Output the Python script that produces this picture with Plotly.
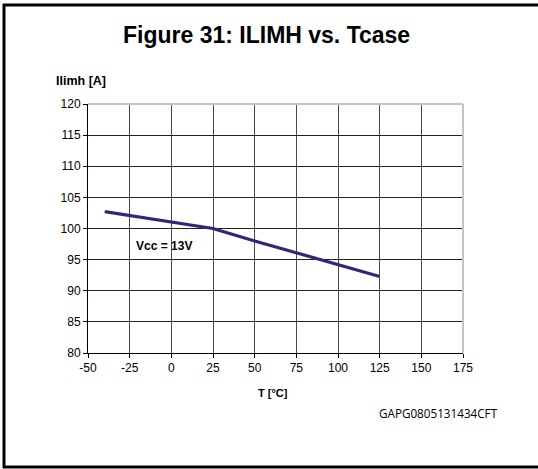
import plotly.graph_objects as go

temps = [-40, 0, 25, 50, 75, 100, 125]
ilimh = [102.7, 101.0, 100.0, 98.0, 96.1, 94.2, 92.3]
x_ticks = [-50, -25, 0, 25, 50, 75, 100, 125, 150, 175]
y_ticks = [80, 85, 90, 95, 100, 105, 110, 115, 120]

W, H = 538, 469
L, R, T, B = 88, 463, 104, 353

def px(p):
    return (p - L) / (R - L)

def py(p):
    return (B - p) / (B - T)

fig = go.Figure()
fig.add_trace(go.Scatter(x=temps, y=ilimh, mode="lines",
                         line=dict(color="#2b2a78", width=3.2),
                         hoverinfo="skip", showlegend=False))

font = "Liberation Sans, Arial, sans-serif"
fig.update_layout(
    width=W, height=H,
    margin=dict(l=L, r=W - R, t=T, b=H - B),
    paper_bgcolor="white", plot_bgcolor="white",
    font=dict(family=font, color="black", size=12),
    xaxis=dict(range=[-50, 175], tickvals=x_ticks, ticktext=[str(v) for v in x_ticks],
               showgrid=True, gridcolor="#4a4a4a", gridwidth=1, zeroline=False,
               showline=True, linecolor="black", linewidth=1,
               ticks="outside", ticklen=4, tickcolor="black",
               tickfont=dict(size=12, family=font), fixedrange=True),
    yaxis=dict(range=[80, 120], tickvals=y_ticks, ticktext=[str(v) for v in y_ticks],
               showgrid=True, gridcolor="#222222", gridwidth=1, zeroline=False,
               showline=True, linecolor="black", linewidth=1,
               ticks="outside", ticklen=4, tickcolor="black",
               tickfont=dict(size=12, family=font), fixedrange=True),
    shapes=[
        dict(type="line", xref="paper", yref="paper", x0=0, x1=1, y0=1, y1=1,
             line=dict(color="#c4c4c4", width=2)),
        dict(type="line", xref="paper", yref="paper", x0=1, x1=1, y0=0, y1=1,
             line=dict(color="#c4c4c4", width=2)),
        dict(type="line", xref="paper", yref="paper",
             x0=px(4), x1=px(4), y0=py(468), y1=py(4),
             line=dict(color="black", width=3), layer="above"),
        dict(type="line", xref="paper", yref="paper",
             x0=px(3), x1=px(538), y0=py(5), y1=py(5),
             line=dict(color="black", width=3), layer="above"),
        dict(type="line", xref="paper", yref="paper",
             x0=px(3), x1=px(538), y0=py(467), y1=py(467),
             line=dict(color="black", width=3), layer="above"),
    ],
    annotations=[
        dict(text="<b>Figure 31: ILIMH vs. Tcase</b>", xref="paper", yref="paper",
             x=px(266), y=py(35), xanchor="center", yanchor="middle", showarrow=False,
             font=dict(size=23, family=font)),
        dict(text="<b>Ilimh [A]</b>", xref="paper", yref="paper",
             x=px(54), y=py(81), xanchor="left", yanchor="middle", showarrow=False,
             font=dict(size=12.5, family=font)),
        dict(text="<b>T [°C]</b>", xref="paper", yref="paper",
             x=px(273), y=py(393), xanchor="center", yanchor="middle", showarrow=False,
             font=dict(size=11, family=font)),
        dict(text="GAPG0805131434CFT", xref="paper", yref="paper",
             x=px(500), y=py(413), xanchor="right", yanchor="middle", showarrow=False,
             font=dict(size=11.7, family="Open Sans, sans-serif")),
        dict(text="<b>Vcc = 13V</b>", x=-4.5, y=97.2, xref="x", yref="y",
             xanchor="center", yanchor="middle", showarrow=False,
             font=dict(size=12, family=font)),
    ],
)

fig.write_html("out.html", config={"displayModeBar": False},
               post_script="document.body.style.margin='0';document.body.style.overflow='hidden';")
